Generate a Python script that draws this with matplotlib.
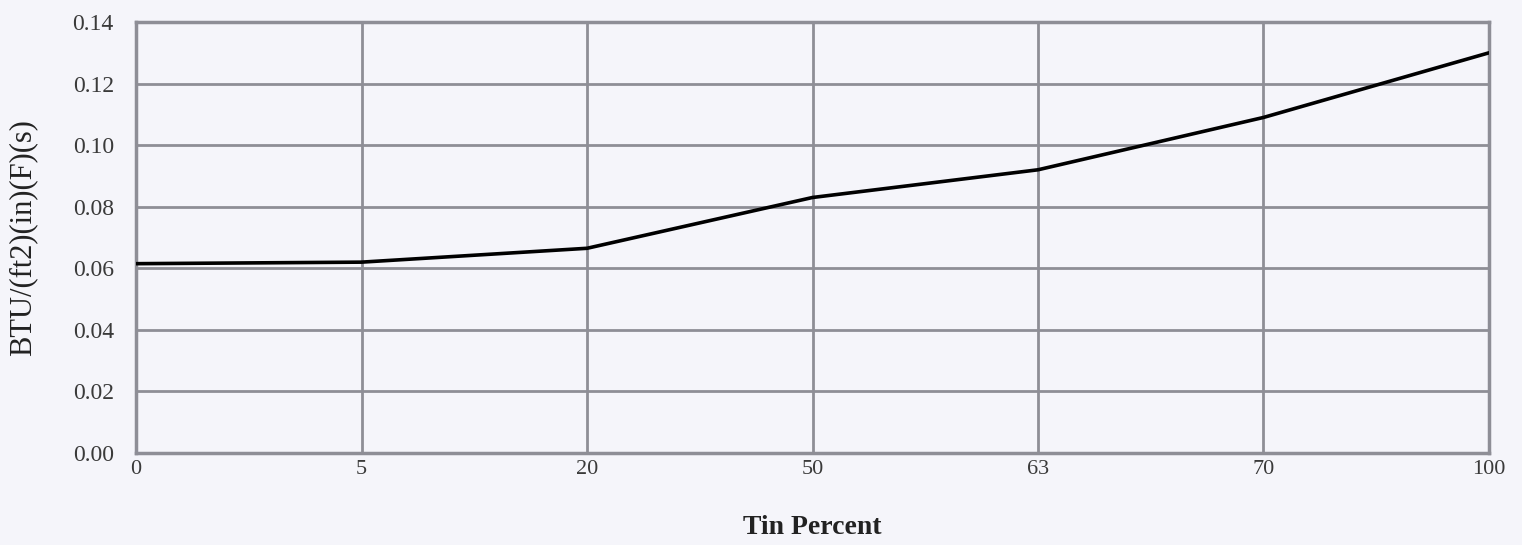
import matplotlib
matplotlib.use("Agg")
import matplotlib.pyplot as plt
import numpy as np

tin_percent = ["0", "5", "20", "50", "63", "70", "100"]
conductivity = [0.0615, 0.0620, 0.0665, 0.0830, 0.0920, 0.1090, 0.1300]
y_ticks = [0.00, 0.02, 0.04, 0.06, 0.08, 0.10, 0.12, 0.14]

bg = "#f5f5fa"
grid_col = "#8e8e96"

plt.rcParams["font.family"] = ["Liberation Serif", "DejaVu Serif"]

fig = plt.figure(figsize=(15.22, 5.45), dpi=100, facecolor=bg)
ax = fig.add_axes([0.0894, 0.1688, 0.8889, 0.7908])
ax.set_facecolor(bg)

x = np.arange(len(tin_percent))
ax.plot(x, conductivity, color="black", lw=2.6, solid_capstyle="round", zorder=3)

ax.set_xlim(0, len(tin_percent) - 1)
ax.set_ylim(0, 0.14)
ax.set_xticks(x)
ax.set_xticklabels(tin_percent)
ax.set_yticks(y_ticks)
ax.set_yticklabels([f"{v:.2f}" for v in y_ticks])
ax.grid(True, color=grid_col, lw=2)
ax.tick_params(length=0, colors="#3a3a3a")
ax.tick_params(axis="x", labelsize=16, pad=5)
ax.tick_params(axis="y", labelsize=17, pad=16)
for s in ax.spines.values():
    s.set_color(grid_col)
    s.set_linewidth(2.5)

ax.set_xlabel("Tin Percent", fontsize=20, fontweight="bold", labelpad=0,
              color="#222222")
ax.xaxis.set_label_coords(0.5, -0.145)
ax.set_ylabel("BTU/(ft2)(in)(F)(s)", fontsize=22, labelpad=0, color="#222222")
ax.yaxis.set_label_coords(-0.073, 0.5)

fig.savefig("out.png", dpi=100, facecolor=bg)
